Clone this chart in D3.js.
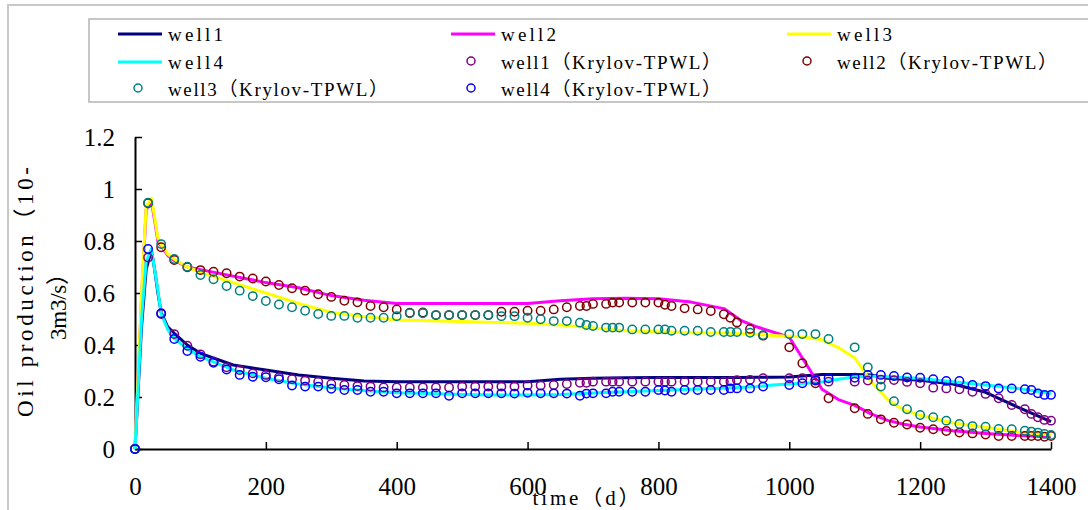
<!DOCTYPE html>
<html>
<head>
<meta charset="utf-8">
<script src="https://cdn.jsdelivr.net/npm/d3@7"></script>
<style>
  body { margin: 0; background: #fff; }
  svg { display: block; }
</style>
</head>
<body>
<svg id="chart" width="1088" height="510"></svg>
<script>
// simulated curves (full model)
var lineDays = [0, 10, 17, 25, 30, 35, 40, 50, 60, 80, 100, 150, 200, 250, 300, 350, 400, 450, 500, 550, 600,
  650, 700, 750, 800, 850, 900, 925, 950, 975, 1000, 1025, 1050, 1075, 1100, 1125, 1150, 1175, 1200,
  1250, 1300, 1350, 1400];
var well1 = [0, 0.47, 0.69, 0.765, 0.69, 0.60, 0.525, 0.47, 0.445, 0.40, 0.368, 0.323, 0.304, 0.285, 0.272, 0.262, 0.259,
  0.259, 0.259, 0.259, 0.259, 0.268, 0.272, 0.274, 0.275, 0.275, 0.275, 0.275, 0.276, 0.276, 0.277, 0.282,
  0.287, 0.287, 0.287, 0.285, 0.272, 0.268, 0.264, 0.25, 0.218, 0.16, 0.105];
var well2 = [0, 0.58, 0.92, 0.955, 0.88, 0.80, 0.78, 0.745, 0.725, 0.70, 0.69, 0.665, 0.64, 0.62, 0.59, 0.572, 0.56,
  0.56, 0.56, 0.56, 0.56, 0.57, 0.578, 0.58, 0.578, 0.565, 0.54, 0.496, 0.47, 0.45, 0.43, 0.33,
  0.23, 0.19, 0.168, 0.135, 0.11, 0.095, 0.085, 0.07, 0.06, 0.052, 0.047];
var well3 = [0, 0.60, 0.93, 0.965, 0.89, 0.81, 0.785, 0.75, 0.73, 0.70, 0.68, 0.64, 0.60, 0.56, 0.525, 0.51, 0.496,
  0.493, 0.49, 0.487, 0.484, 0.477, 0.465, 0.455, 0.451, 0.447, 0.446, 0.443, 0.44, 0.437, 0.434, 0.43,
  0.42, 0.39, 0.35, 0.26, 0.19, 0.15, 0.13, 0.10, 0.084, 0.065, 0.054];
var well4 = [0, 0.50, 0.72, 0.77, 0.69, 0.61, 0.52, 0.46, 0.425, 0.385, 0.355, 0.304, 0.272, 0.25, 0.235, 0.225, 0.216,
  0.213, 0.21, 0.208, 0.208, 0.21, 0.215, 0.22, 0.225, 0.23, 0.234, 0.237, 0.24, 0.246, 0.25, 0.253,
  0.258, 0.268, 0.278, 0.28, 0.278, 0.275, 0.271, 0.259, 0.246, 0.233, 0.214];

// Krylov-TPWL markers
var tpwlDays = [0, 20, 40, 60, 80, 100, 120, 140, 160, 180, 200, 220, 240, 260, 280, 300, 320, 340, 360, 380,
  400, 420, 440, 460, 480, 500, 520, 540, 560, 580, 600, 620, 640, 660, 680, 690, 700, 720, 730, 740,
  760, 780, 800, 810, 820, 840, 860, 880, 900, 910, 920, 940, 960, 1000, 1020, 1040, 1060, 1100, 1120, 1140,
  1160, 1180, 1200, 1220, 1240, 1260, 1280, 1300, 1320, 1340, 1360, 1370, 1380, 1390, 1400];
var tpwl1 = [0, 0.737, 0.519, 0.442, 0.397, 0.364, 0.336, 0.314, 0.304, 0.291, 0.285, 0.276, 0.268, 0.263, 0.259, 0.25, 0.246, 0.242, 0.24, 0.237,
  0.237, 0.237, 0.237, 0.237, 0.237, 0.24, 0.24, 0.24, 0.24, 0.24, 0.244, 0.244, 0.246, 0.25, 0.255, 0.255, 0.259, 0.259, 0.259, 0.259,
  0.259, 0.259, 0.259, 0.259, 0.259, 0.259, 0.259, 0.259, 0.259, 0.26, 0.265, 0.266, 0.272, 0.272, 0.272, 0.268, 0.259, 0.259, 0.263, 0.267,
  0.265, 0.258, 0.253, 0.236, 0.233, 0.23, 0.22, 0.212, 0.195, 0.169, 0.153, 0.135, 0.122, 0.112, 0.109];
var tpwl2 = [0, 0.945, 0.776, 0.727, 0.699, 0.688, 0.682, 0.676, 0.663, 0.656, 0.644, 0.631, 0.618, 0.609, 0.595, 0.585, 0.57, 0.564, 0.55, 0.545,
  0.537, 0.524, 0.525, 0.515, 0.515, 0.515, 0.515, 0.515, 0.528, 0.528, 0.532, 0.532, 0.537, 0.545, 0.55, 0.55, 0.558, 0.558, 0.563, 0.563,
  0.563, 0.563, 0.563, 0.555, 0.55, 0.541, 0.537, 0.531, 0.518, 0.505, 0.487, 0.462, 0.436, 0.391, 0.33, 0.253, 0.195, 0.157, 0.135, 0.114,
  0.101, 0.094, 0.082, 0.076, 0.069, 0.063, 0.06, 0.056, 0.05, 0.05, 0.05, 0.05, 0.05, 0.047, 0.05];
var tpwl3 = [0, 0.947, 0.788, 0.731, 0.701, 0.669, 0.653, 0.627, 0.609, 0.588, 0.569, 0.556, 0.545, 0.532, 0.519, 0.512, 0.512, 0.505, 0.505, 0.505,
  0.511, 0.522, 0.522, 0.515, 0.515, 0.515, 0.515, 0.515, 0.511, 0.511, 0.505, 0.499, 0.492, 0.492, 0.486, 0.477, 0.473, 0.467, 0.467, 0.467,
  0.46, 0.46, 0.46, 0.46, 0.455, 0.455, 0.455, 0.45, 0.45, 0.45, 0.45, 0.447, 0.438, 0.442, 0.442, 0.442, 0.423, 0.391, 0.314, 0.24,
  0.184, 0.153, 0.131, 0.122, 0.109, 0.096, 0.088, 0.086, 0.077, 0.076, 0.07, 0.067, 0.063, 0.058, 0.054];
var tpwl4 = [0, 0.769, 0.522, 0.423, 0.377, 0.355, 0.332, 0.306, 0.285, 0.278, 0.276, 0.268, 0.244, 0.24, 0.24, 0.232, 0.227, 0.227, 0.22, 0.22,
  0.214, 0.214, 0.214, 0.214, 0.205, 0.214, 0.214, 0.214, 0.214, 0.213, 0.216, 0.214, 0.214, 0.213, 0.205, 0.213, 0.214, 0.214, 0.22, 0.22,
  0.22, 0.22, 0.227, 0.225, 0.22, 0.227, 0.227, 0.227, 0.227, 0.233, 0.233, 0.233, 0.24, 0.246, 0.253, 0.263, 0.272, 0.274, 0.285, 0.285,
  0.281, 0.275, 0.274, 0.268, 0.262, 0.262, 0.246, 0.242, 0.233, 0.233, 0.23, 0.227, 0.214, 0.208, 0.208];

var xTicks = [0, 200, 400, 600, 800, 1000, 1200, 1400];
var yTicks = [0, 0.2, 0.4, 0.6, 0.8, 1, 1.2];
var yTickLabels = ["0", "0.2", "0.4", "0.6", "0.8", "1", "1.2"];

var lineNames = ["well1", "well2", "well3", "well4"];
var lineColors = ["#000080", "#ff00ff", "#ffff00", "#00ffff"];
var dotNames = ["well1\uff08Krylov-TPWL\uff09", "well2\uff08Krylov-TPWL\uff09", "well3\uff08Krylov-TPWL\uff09", "well4\uff08Krylov-TPWL\uff09"];
var dotColors = ["#800080", "#800000", "#008080", "#0000ff"];

var svg = d3.select("#chart");
var serif = "'Liberation Serif', 'Noto Sans CJK SC', serif";

// outer frame
svg.append("rect").attr("x", 8).attr("y", 5).attr("width", 1100).attr("height", 520)
  .attr("fill", "none").attr("stroke", "#c8c8c8").attr("stroke-width", 2);

var x = d3.scaleLinear().domain([0, 1400]).range([135, 1051]);
var y = d3.scaleLinear().domain([0, 1.2]).range([449, 137]);

// axes, ticks point inward
var xAxis = d3.axisBottom(x).tickValues(xTicks).tickSizeInner(-7).tickSizeOuter(0).tickPadding(28)
  .tickFormat(d3.format("d"));
var yAxis = d3.axisLeft(y).tickValues(yTicks).tickSizeInner(-7).tickSizeOuter(0).tickPadding(20)
  .tickFormat(function(d, i) { return yTickLabels[i]; });

var gx = svg.append("g").attr("transform", "translate(0,449)").call(xAxis);
var gy = svg.append("g").attr("transform", "translate(135,0)").call(yAxis);
[gx, gy].forEach(function(g) {
  g.select(".domain").attr("stroke", "#000").attr("stroke-width", 2);
  g.selectAll(".tick line").attr("stroke", "#000").attr("stroke-width", 1.5);
  g.selectAll(".tick text").attr("font-family", serif).attr("font-size", 25).attr("fill", "#000");
});

// lines
var series = [well1, well2, well3, well4];
var line = d3.line().x(function(d, i) { return x(lineDays[i]); }).y(function(d) { return y(d); });
series.forEach(function(s, k) {
  svg.append("path").datum(s).attr("d", line)
    .attr("fill", "none").attr("stroke", lineColors[k]).attr("stroke-width", 3)
    .attr("stroke-linejoin", "round");
});

// TPWL markers
var dots = [tpwl1, tpwl2, tpwl3, tpwl4];
dots.forEach(function(s, k) {
  svg.append("g").selectAll("circle").data(s).enter().append("circle")
    .attr("cx", function(d, i) { return x(tpwlDays[i]); })
    .attr("cy", function(d) { return y(d); })
    .attr("r", 4.2)
    .attr("fill", "none").attr("stroke", dotColors[k]).attr("stroke-width", 1.5);
});

// axis titles
svg.append("text").attr("x", 586).attr("y", 505).attr("text-anchor", "middle")
  .attr("font-family", serif).attr("font-size", 21)
  .attr("textLength", 107).attr("lengthAdjust", "spacing")
  .text("time\uff08d\uff09");

svg.append("text").attr("transform", "translate(33,292) rotate(-90)").attr("text-anchor", "middle")
  .attr("font-family", serif).attr("font-size", 23)
  .attr("textLength", 250).attr("lengthAdjust", "spacing")
  .text("Oil production\uff0810-");
svg.append("text").attr("transform", "translate(66,301) rotate(-90)").attr("text-anchor", "middle")
  .attr("font-family", serif).attr("font-size", 23)
  .attr("textLength", 78).attr("lengthAdjust", "spacing")
  .text("3m3/s\uff09");

// legend
svg.append("rect").attr("x", 89).attr("y", 19).attr("width", 1100).attr("height", 83)
  .attr("fill", "#fff").attr("stroke", "#b4b4b4").attr("stroke-width", 1.5);

var legendCols = [118, 451, 787];
var legendRows = [34, 62, 89];
var items = [];
lineNames.forEach(function(n, k) { items.push({ name: n, color: lineColors[k], type: "line" }); });
dotNames.forEach(function(n, k) { items.push({ name: n, color: dotColors[k], type: "dot" }); });

items.forEach(function(it, i) {
  var cx = legendCols[i % 3], cy = legendRows[Math.floor(i / 3)];
  var g = svg.append("g");
  if (it.type == "line") {
    g.append("line").attr("x1", cx).attr("x2", cx + 44).attr("y1", cy).attr("y2", cy)
      .attr("stroke", it.color).attr("stroke-width", 3);
  } else {
    g.append("circle").attr("cx", cx + 20).attr("cy", cy - 1).attr("r", 4)
      .attr("fill", "none").attr("stroke", it.color).attr("stroke-width", 1.5);
  }
  var units = it.name.length + (it.type == "dot" ? 2 : 0);
  g.append("text").attr("x", cx + 50).attr("y", cy + 7)
    .attr("font-family", serif).attr("font-size", 19)
    .attr("textLength", units * 11).attr("lengthAdjust", "spacing")
    .text(it.name);
});
</script>
</body>
</html>
